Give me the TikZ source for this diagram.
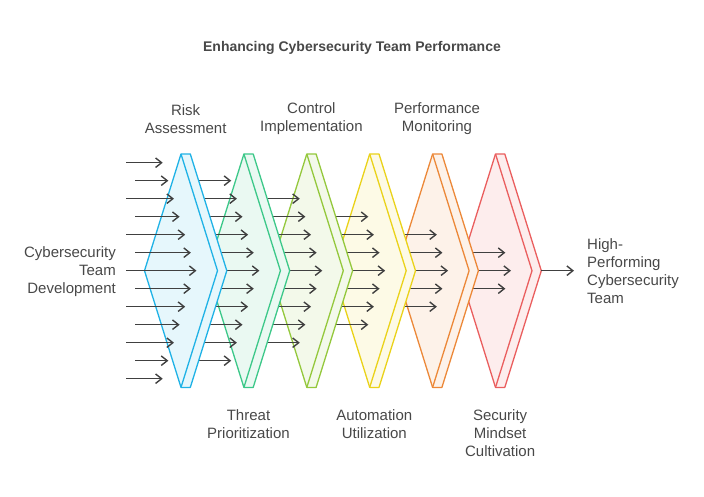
\documentclass[tikz,border=0pt]{standalone}
\usepackage{fontspec}
\setmainfont{Liberation Sans}
\usetikzlibrary{arrows.meta,calc}
\definecolor{riskblue}{RGB}{31,178,230}
\definecolor{threatgreen}{RGB}{60,200,137}
\definecolor{controllime}{RGB}{148,200,60}
\definecolor{autoyellow}{RGB}{234,210,25}
\definecolor{monitororange}{RGB}{236,136,56}
\definecolor{mindsetred}{RGB}{234,94,94}
\definecolor{textgray}{RGB}{72,72,72}
\definecolor{arrowgray}{RGB}{64,64,64}

\begin{document}
\begin{tikzpicture}[x=1pt, y=-1pt,
  chev/.style={line width=1.3pt, line join=round},
  flow/.style={-{Straight Barb[length=6pt,width=9.5pt]}, line width=1.4pt, arrowgray},
  lbl/.style={font=\fontsize{15}{18}\selectfont, text=textgray, align=center, inner sep=0pt},
  ttl/.style={font=\bfseries\fontsize{14}{17}\selectfont, text=textgray, inner sep=0pt}
]
\useasboundingbox (0,0) rectangle (704,497);

%% Chevrons, right to left, each with its incoming arrows
\foreach \i/\col in {5/mindsetred,4/monitororange,3/autoyellow,2/controllime,1/threatgreen,0/riskblue}{
  \pgfmathsetmacro\tx{181+62.9*\i}
  \pgfmathtruncatemacro\nhalf{6-\i}
  \filldraw[chev, draw=\col, fill=\col!11]
    (\tx-36.5,270.7) -- (\tx,154) -- (\tx+9.3,154) -- (\tx+45.8,270.7)
    -- (\tx+9.3,387.4) -- (\tx,387.4) -- cycle;
  \draw[chev, \col] (\tx,154) -- (\tx+36.5,270.7) -- (\tx,387.4);
  \coordinate (tip\i) at (\tx+45.8,270.7);
  \foreach \k in {-\nhalf,...,\nhalf}{
    \pgfmathsetmacro\sx{\i==0 ? (mod(abs(\k),2)==0 ? 126 : 135) : \tx-62.9}
    \pgfmathsetmacro\ex{\tx+36.5*(1-abs(18*\k)/116.7)-21}
    \draw[flow] (\sx,270.7+18*\k) -- (\ex,270.7+18*\k);
  }
}

%% Title
\node[ttl] (title) at (352,48) {Enhancing Cybersecurity Team Performance};

%% Stage labels (above)
\node[lbl] (risk)    at (185.6,119) {Risk\\Assessment};
\node[lbl] (control) at (311.4,119) {Control\\Implementation};
\node[lbl] (monitor) at (437.0,119) {Performance\\Monitoring};

%% Stage labels (below)
\node[lbl] (threat)  at (248.5,424) {Threat\\Prioritization};
\node[lbl] (autom)   at (374.3,424) {Automation\\Utilization};
\node[lbl] (mindset) at (500.1,433) {Security\\Mindset\\Cultivation};

%% Start and goal
\node[lbl, align=right, anchor=east] (devel) at (116,272) {Cybersecurity\\Team\\Development};
\node[lbl, align=left, anchor=west]  (perf)  at (587,271) {High-\\Performing\\Cybersecurity\\Team};
\draw[flow, shorten >=13pt] (tip5) -- (tip5 -| perf.west);
\end{tikzpicture}
\end{document}
